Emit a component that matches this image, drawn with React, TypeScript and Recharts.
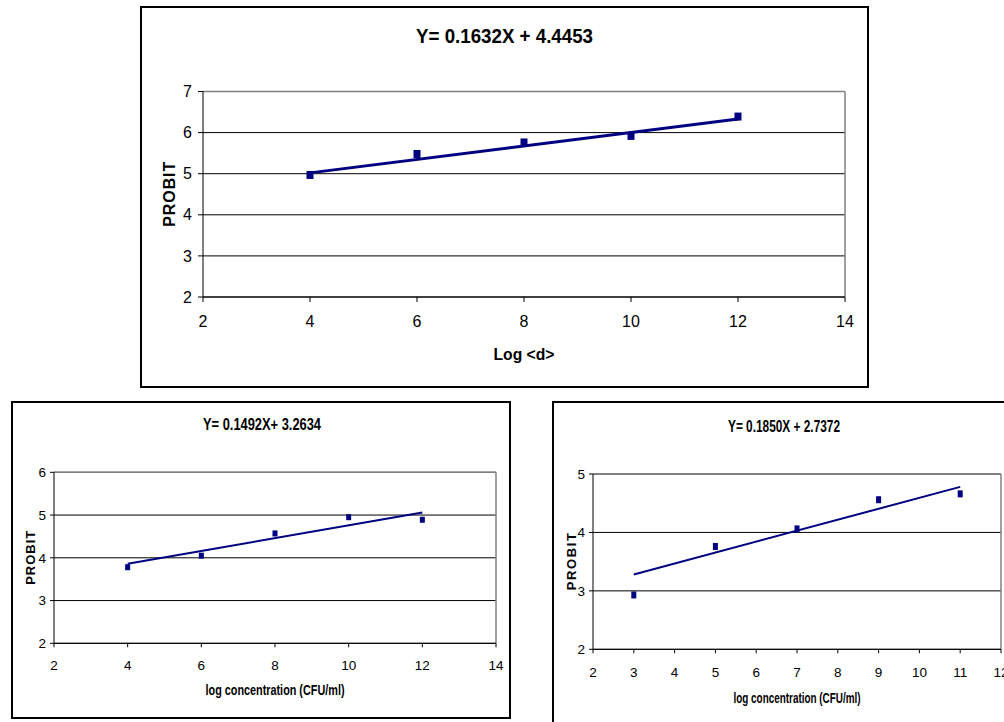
import React from 'react';
import { ScatterChart, Scatter, XAxis, YAxis, CartesianGrid, ReferenceLine } from 'recharts';

const NAVY = '#000080';
const FONT = '"Liberation Sans Narrow", "Liberation Sans", Arial, sans-serif';

// top chart: probit vs Log <d>
const topLogD = [4, 6, 8, 10, 12];
const topProbit = [4.97, 5.48, 5.76, 5.92, 6.39];
const topFitX = [4, 12];
const topFitY = [5.02, 6.33];
const topXTicks = [2, 4, 6, 8, 10, 12, 14];
const topYTicks = [2, 3, 4, 5, 6, 7];

// bottom left chart
const leftConc = [4, 6, 8, 10, 12];
const leftProbit = [3.78, 4.05, 4.57, 4.95, 4.89];
const leftFitX = [4, 12];
const leftFitY = [3.86, 5.06];
const leftXTicks = [2, 4, 6, 8, 10, 12, 14];
const leftYTicks = [2, 3, 4, 5, 6];

// bottom right chart
const rightConc = [3, 5, 7, 9, 11];
const rightProbit = [2.93, 3.76, 4.06, 4.56, 4.66];
const rightFitX = [3, 11];
const rightFitY = [3.28, 4.78];
const rightXTicks = [2, 3, 4, 5, 6, 7, 8, 9, 10, 11, 12];
const rightYTicks = [2, 3, 4, 5];

const toPoints = (xs: number[], ys: number[]) => xs.map((x, i) => ({ x, y: ys[i] }));

const YTitle = (props: any) => {
  const { viewBox, value, dx, fontSize, length } = props;
  if (!viewBox) return null;
  const x = viewBox.x + dx;
  const y = viewBox.y + viewBox.height / 2;
  return (
    <text
      x={x}
      y={y}
      transform={`rotate(-90 ${x} ${y})`}
      textAnchor="middle"
      dominantBaseline="central"
      fontFamily={FONT}
      fontWeight="bold"
      fontSize={fontSize}
      textLength={length}
      lengthAdjust="spacing"
      fill="#000"
    >
      {value}
    </text>
  );
};

const XTitle = (props: any) => {
  const { viewBox, value, dy, fontSize, length } = props;
  if (!viewBox) return null;
  return (
    <text
      x={viewBox.x + viewBox.width / 2}
      y={viewBox.y + dy}
      textAnchor="middle"
      fontFamily={FONT}
      fontWeight="bold"
      fontSize={fontSize}
      textLength={length}
      lengthAdjust="spacingAndGlyphs"
      fill="#000"
    >
      {value}
    </text>
  );
};

interface PanelProps {
  box: { left: number; top: number; width: number; height: number };
  margin: { top: number; right: number; bottom: number };
  yWidth: number;
  xHeight: number;
  xDomain: [number, number];
  yDomain: [number, number];
  xTicks: number[];
  yTicks: number[];
  points: { x: number; y: number }[];
  fit: { x: number; y: number }[];
  title: string;
  titleX: number;
  titleY: number;
  titleSize: number;
  titleLength: number;
  xLabel: string;
  xLabelSize: number;
  xLabelDy: number;
  xLabelLength: number;
  yLabelDx: number;
  yLabelSize: number;
  yLabelLength: number;
  tickSize: number;
  xTickMargin: number;
  yTickMargin: number;
  tickFont: number;
  marker: [number, number];
  lineWidth: number;
}

const Panel: React.FC<PanelProps> = (p) => {
  const w = p.box.width - 4;
  const h = p.box.height - 4;
  const [mw, mh] = p.marker;
  const tick = { fill: '#000', fontSize: p.tickFont, fontFamily: FONT };
  return (
    <>
      <div
        style={{
          position: 'absolute',
          left: p.box.left,
          top: p.box.top,
          width: p.box.width,
          height: p.box.height,
          border: '2px solid #000',
          boxSizing: 'border-box',
        }}
      >
        <ScatterChart
          width={w}
          height={h}
          margin={{ top: p.margin.top, right: p.margin.right, bottom: p.margin.bottom, left: 0 }}
        >
          <CartesianGrid vertical={false} stroke="#000" strokeWidth={1} />
          <XAxis
            type="number"
            dataKey="x"
            domain={p.xDomain}
            ticks={p.xTicks}
            allowDataOverflow
            height={p.xHeight}
            tick={tick}
            tickSize={p.tickSize}
            tickMargin={p.xTickMargin}
            axisLine={{ stroke: '#000' }}
            tickLine={{ stroke: '#000' }}
            label={<XTitle value={p.xLabel} dy={p.xLabelDy} fontSize={p.xLabelSize} length={p.xLabelLength} />}
          />
          <YAxis
            type="number"
            dataKey="y"
            domain={p.yDomain}
            ticks={p.yTicks}
            allowDataOverflow
            width={p.yWidth}
            tick={tick}
            tickSize={p.tickSize}
            tickMargin={p.yTickMargin}
            axisLine={{ stroke: '#000' }}
            tickLine={{ stroke: '#000' }}
            label={<YTitle value="PROBIT" dx={p.yLabelDx} fontSize={p.yLabelSize} length={p.yLabelLength} />}
          />
          <ReferenceLine y={p.yDomain[1]} stroke="#808080" strokeWidth={1.5} />
          <ReferenceLine x={p.xDomain[1]} stroke="#808080" strokeWidth={1.5} />
          <Scatter
            data={p.points}
            isAnimationActive={false}
            shape={(s: any) => (
              <rect x={s.cx - mw / 2} y={s.cy - mh / 2} width={mw} height={mh} fill={NAVY} />
            )}
          />
          <Scatter
            data={p.fit}
            isAnimationActive={false}
            line={{ stroke: NAVY, strokeWidth: p.lineWidth }}
            shape={() => <g />}
          />
        </ScatterChart>
      </div>
      <svg
        width={p.titleLength + 40}
        height={p.titleSize * 2}
        style={{
          position: 'absolute',
          left: p.titleX - (p.titleLength + 40) / 2,
          top: p.titleY - p.titleSize,
          overflow: 'visible',
        }}
      >
        <text
          x={(p.titleLength + 40) / 2}
          y={p.titleSize}
          textAnchor="middle"
          dominantBaseline="central"
          fontFamily={FONT}
          fontWeight="bold"
          fontSize={p.titleSize}
          textLength={p.titleLength}
          lengthAdjust="spacingAndGlyphs"
          fill="#000"
        >
          {p.title}
        </text>
      </svg>
    </>
  );
};

export default function App() {
  return (
    <div
      style={{
        position: 'fixed',
        left: 0,
        top: 0,
        width: 1004,
        height: 722,
        overflow: 'hidden',
        background: '#fff',
      }}
    >
      <Panel
        box={{ left: 140, top: 6, width: 729, height: 382 }}
        margin={{ top: 83.5, right: 22, bottom: 19 }}
        yWidth={61}
        xHeight={70}
        xDomain={[2, 14]}
        yDomain={[2, 7]}
        xTicks={topXTicks}
        yTicks={topYTicks}
        points={toPoints(topLogD, topProbit)}
        fit={toPoints(topFitX, topFitY)}
        title="Y= 0.1632X + 4.4453"
        titleX={504}
        titleY={35}
        titleSize={21}
        titleLength={177}
        xLabel="Log <d>"
        xLabelSize={17}
        xLabelDy={63}
        xLabelLength={61}
        yLabelDx={27}
        yLabelSize={16}
        yLabelLength={65}
        tickSize={5}
        xTickMargin={14}
        yTickMargin={6}
        tickFont={16}
        marker={[7, 8]}
        lineWidth={3}
      />
      <Panel
        box={{ left: 11, top: 401, width: 500, height: 318 }}
        margin={{ top: 69.3, right: 13, bottom: 13.7 }}
        yWidth={41}
        xHeight={60}
        xDomain={[2, 14]}
        yDomain={[2, 6]}
        xTicks={leftXTicks}
        yTicks={leftYTicks}
        points={toPoints(leftConc, leftProbit)}
        fit={toPoints(leftFitX, leftFitY)}
        title="Y= 0.1492X+ 3.2634"
        titleX={262}
        titleY={423.5}
        titleSize={17}
        titleLength={118}
        xLabel="log concentration (CFU/ml)"
        xLabelSize={14}
        xLabelDy={51.7}
        xLabelLength={139}
        yLabelDx={18}
        yLabelSize={13}
        yLabelLength={54}
        tickSize={4}
        xTickMargin={13}
        yTickMargin={4}
        tickFont={13.5}
        marker={[5, 6]}
        lineWidth={2}
      />
      <Panel
        box={{ left: 552, top: 401, width: 470, height: 340 }}
        margin={{ top: 71, right: 19, bottom: 29.7 }}
        yWidth={39}
        xHeight={60}
        xDomain={[2, 12]}
        yDomain={[2, 5]}
        xTicks={rightXTicks}
        yTicks={rightYTicks}
        points={toPoints(rightConc, rightProbit)}
        fit={toPoints(rightFitX, rightFitY)}
        title="Y= 0.1850X + 2.7372"
        titleX={784}
        titleY={425.5}
        titleSize={17}
        titleLength={112}
        xLabel="log concentration (CFU/ml)"
        xLabelSize={14}
        xLabelDy={53.7}
        xLabelLength={127}
        yLabelDx={18}
        yLabelSize={13}
        yLabelLength={57}
        tickSize={4}
        xTickMargin={14}
        yTickMargin={4}
        tickFont={13.5}
        marker={[5, 7]}
        lineWidth={2}
      />
    </div>
  );
}
